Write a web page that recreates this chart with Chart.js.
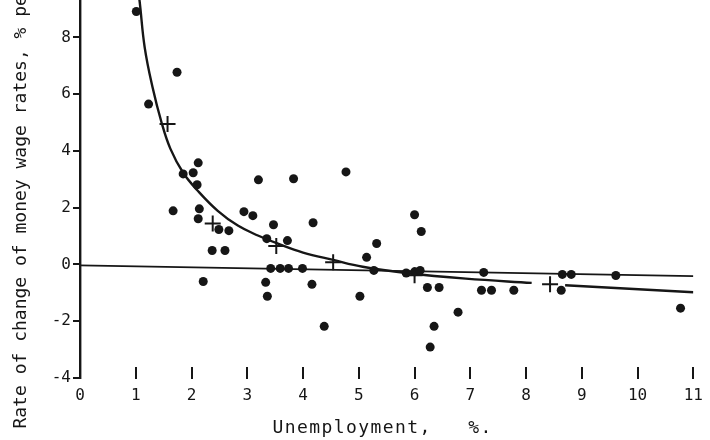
<!DOCTYPE html>
<html>
<head>
<meta charset="utf-8">
<script src="https://cdn.jsdelivr.net/npm/chart.js@4.4.1/dist/chart.umd.min.js"></script>
<style>
html, body { margin:0; padding:0; background:#fff; overflow:hidden; width:710px; height:440px; }
#wrap { position:absolute; left:0; top:-31px; width:710px; height:471px; }
</style>
</head>
<body>
<div id="wrap"><canvas id="c" width="710" height="471"></canvas></div>
<script>
// ---- data ----
const dotUnemployment = [1.01, 1.74, 1.23, 2.12, 2.03, 1.85, 2.10, 1.67, 2.14, 2.12, 2.49, 2.67, 2.37, 2.60, 2.21,
  3.20, 2.94, 3.10, 3.47, 3.35, 3.72, 3.42, 3.59, 3.74, 3.99, 3.33, 3.36, 3.83, 4.77, 4.18, 5.32, 5.14, 5.27, 5.85,
  4.16, 5.02, 4.38, 6.00, 6.12, 6.00, 6.10, 6.23, 6.44, 7.24, 7.20, 7.38, 7.78, 6.78, 6.35, 6.28, 8.65, 8.81, 9.61,
  8.63, 10.77];
const dotWageChange = [8.91, 6.77, 5.65, 3.58, 3.23, 3.19, 2.81, 1.89, 1.96, 1.61, 1.23, 1.19, 0.49, 0.49, -0.60,
  2.98, 1.86, 1.72, 1.40, 0.91, 0.84, -0.14, -0.14, -0.14, -0.14, -0.63, -1.12, 3.02, 3.26, 1.47, 0.74, 0.25, -0.21, -0.30,
  -0.70, -1.12, -2.18, 1.75, 1.16, -0.26, -0.21, -0.81, -0.81, -0.28, -0.91, -0.91, -0.91, -1.68, -2.18, -2.91, -0.35, -0.35, -0.39,
  -0.91, -1.54];

const crossUnemployment = [1.57, 2.38, 3.52, 4.54, 6.00, 8.43];
const crossWageChange   = [4.95, 1.44, 0.65, 0.08, -0.38, -0.70];

const curveUnemployment = [1.02, 1.07, 1.16, 1.30, 1.46, 1.62, 1.85, 2.12, 2.47, 2.83, 3.19, 3.54, 4.00, 4.54, 5.07, 5.85, 6.92, 8.10, null, 8.70, 11.00];
const curveWageChange   = [10.0, 9.26, 7.65, 6.25, 5.02, 4.08, 3.23, 2.58, 1.89, 1.37, 1.02, 0.74, 0.42, 0.16, -0.08, -0.30, -0.50, -0.65, null, -0.73, -0.98];

const zeroLineUnemployment = [0, 11];
const zeroLineWageChange   = [-0.03, -0.41];

const xTickValues = [0, 1, 2, 3, 4, 5, 6, 7, 8, 9, 10, 11];
const yTickValues = [-4, -2, 0, 2, 4, 6, 8, 10];

const yTitle = 'Rate of change of money wage rates, % per year';
const xTitle = 'Unemployment,   %.';

// ---- build ----
const zip = (xs, ys) => xs.map((x, i) => (x === null ? { x: null, y: null } : { x: x, y: ys[i] }));
const INK = '#161616';
const MONO = '"DejaVu Sans Mono", monospace';

const xTitlePlugin = {
  id: 'xTitlePlugin',
  afterDraw(chart) {
    const { ctx, chartArea } = chart;
    ctx.save();
    ctx.font = '18px ' + MONO;
    if ('letterSpacing' in ctx) ctx.letterSpacing = '1.4px';
    ctx.fillStyle = INK;
    ctx.textAlign = 'center';
    ctx.textBaseline = 'alphabetic';
    ctx.fillText(xTitle, (chartArea.left + chartArea.right) / 2 - 4, chartArea.bottom + 55);
    ctx.restore();
  }
};

new Chart(document.getElementById('c'), {
  type: 'scatter',
  data: {
    datasets: [
      {
        label: 'Annual observations',
        data: zip(dotUnemployment, dotWageChange),
        pointRadius: 4.5,
        pointHoverRadius: 4.5,
        backgroundColor: INK,
        borderWidth: 0,
        showLine: false
      },
      {
        label: 'Averages',
        data: zip(crossUnemployment, crossWageChange),
        pointStyle: 'cross',
        pointRadius: 8,
        borderColor: INK,
        borderWidth: 2,
        showLine: false
      },
      {
        type: 'line',
        label: 'Fitted curve',
        data: zip(curveUnemployment, curveWageChange),
        borderColor: INK,
        borderWidth: 2.4,
        pointRadius: 0,
        tension: 0.4,
        spanGaps: false,
        fill: false
      },
      {
        type: 'line',
        label: 'Zero line',
        data: zip(zeroLineUnemployment, zeroLineWageChange),
        borderColor: INK,
        borderWidth: 1.8,
        pointRadius: 0,
        fill: false
      }
    ]
  },
  options: {
    responsive: false,
    animation: false,
    devicePixelRatio: 1,
    layout: { padding: { left: 0, right: 13, top: 0, bottom: 62 } },
    plugins: { legend: { display: false }, tooltip: { enabled: false } },
    scales: {
      x: {
        type: 'linear',
        position: { y: -3.62 },
        min: 0, max: 11,
        afterBuildTicks: s => { s.ticks = xTickValues.map(v => ({ value: v })); },
        ticks: { color: INK, font: { family: MONO, size: 16 }, padding: 7, maxRotation: 0, autoSkip: false },
        grid: {
          drawOnChartArea: false, drawTicks: true, tickLength: 12, lineWidth: 2,
          color: c => (c.tick && c.tick.value === 0 ? 'rgba(0,0,0,0)' : INK)
        },
        border: { display: false }
      },
      y: {
        type: 'linear',
        position: 'left',
        min: -4, max: 10,
        afterBuildTicks: s => { s.ticks = yTickValues.map(v => ({ value: v })); },
        afterFit: s => { s.width = 80; },
        ticks: { color: INK, font: { family: MONO, size: 16 }, padding: 2 },
        grid: { drawOnChartArea: false, drawTicks: true, tickLength: 7, lineWidth: 2, color: INK },
        border: { display: true, color: INK, width: 2.4 },
        title: {
          display: true, text: yTitle, color: INK,
          font: { family: MONO, size: 18 },
          padding: { top: 11, bottom: 0 }
        }
      }
    }
  },
  plugins: [xTitlePlugin]
});
</script>
</body>
</html>
